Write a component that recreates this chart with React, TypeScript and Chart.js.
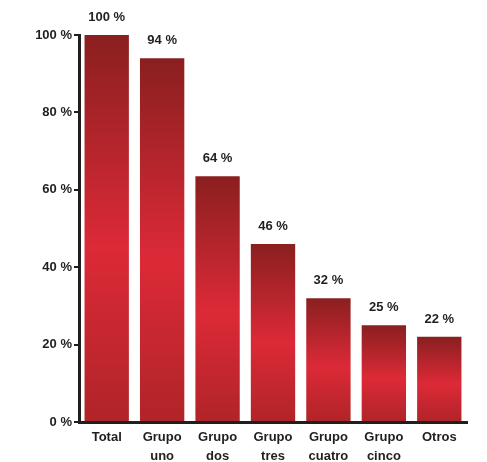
import React, { useEffect, useRef } from "react";
import { Chart, registerables } from "chart.js";

Chart.register(...registerables);

const categories: (string | string[])[] = [
  "Total",
  ["Grupo", "uno"],
  ["Grupo", "dos"],
  ["Grupo", "tres"],
  ["Grupo", "cuatro"],
  ["Grupo", "cinco"],
  "Otros",
];
const values = [100, 94, 63.5, 46, 32, 25, 22];
const valueLabels = ["100 %", "94 %", "64 %", "46 %", "32 %", "25 %", "22 %"];
const yTicks = [0, 20, 40, 60, 80, 100];

const FONT = "'Liberation Sans', 'DejaVu Sans', sans-serif";
const INK = "#1f1f1d";

const valueLabelPlugin = {
  id: "valueLabels",
  afterDatasetsDraw(chart: any) {
    const ctx = chart.ctx;
    const meta = chart.getDatasetMeta(0);
    ctx.save();
    ctx.fillStyle = INK;
    ctx.font = `bold 13px ${FONT}`;
    ctx.textAlign = "center";
    ctx.textBaseline = "bottom";
    meta.data.forEach((bar: any, i: number) => {
      ctx.fillText(valueLabels[i], bar.x, bar.y - 11);
    });
    ctx.restore();
  },
};

export default function App() {
  const ref = useRef<HTMLCanvasElement>(null);
  useEffect(() => {
    if (!ref.current) return;
    const chart = new Chart(ref.current, {
      type: "bar",
      data: {
        labels: categories,
        datasets: [
          {
            data: values,
            backgroundColor: (c: any) => {
              const chart = c.chart;
              const ys = chart.scales && chart.scales.y;
              if (!chart.chartArea || !ys || c.dataIndex === undefined) return "#c0252d";
              const top = ys.getPixelForValue(values[c.dataIndex]);
              const base = ys.getPixelForValue(0);
              const g = chart.ctx.createLinearGradient(0, top, 0, base);
              g.addColorStop(0, "#8a1f1f");
              g.addColorStop(0.55, "#dc2a37");
              g.addColorStop(1, "#b02428");
              return g;
            },
            borderWidth: 0,
            barPercentage: 0.8,
            categoryPercentage: 1,
          },
        ],
      },
      options: {
        responsive: false,
        animation: false,
        maintainAspectRatio: false,
        layout: { padding: { top: 35, right: 20, left: 0, bottom: 0 } },
        plugins: { legend: { display: false }, tooltip: { enabled: false } },
        scales: {
          x: {
            grid: { display: false, drawTicks: false },
            border: { display: true, color: INK, width: 3 },
            ticks: {
              color: INK,
              font: { family: FONT, size: 13, weight: "bold", lineHeight: 1.45 },
              padding: 6,
              maxRotation: 0,
              autoSkip: false,
            },
            afterFit: (s: any) => {
              s.height = 40;
            },
          },
          y: {
            min: 0,
            max: 100,
            afterBuildTicks: (s: any) => {
              s.ticks = yTicks.map((v) => ({ value: v }));
            },
            grid: {
              display: true,
              drawOnChartArea: false,
              drawTicks: true,
              tickLength: 5,
              color: INK,
              lineWidth: 2,
            },
            border: { display: true, color: INK, width: 3 },
            ticks: {
              color: INK,
              font: { family: FONT, size: 13, weight: "bold" },
              padding: 2,
              callback: (v: any) => `${v} %`,
            },
            afterFit: (s: any) => {
              s.width = 79;
            },
          },
        },
      },
      plugins: [valueLabelPlugin],
    });
    return () => chart.destroy();
  }, []);
  return (
    <div style={{ position: "fixed", left: 0, top: 0, width: 487, height: 462, background: "#fff" }}>
      <canvas ref={ref} width={487} height={462} style={{ width: 487, height: 462 }} />
    </div>
  );
}
